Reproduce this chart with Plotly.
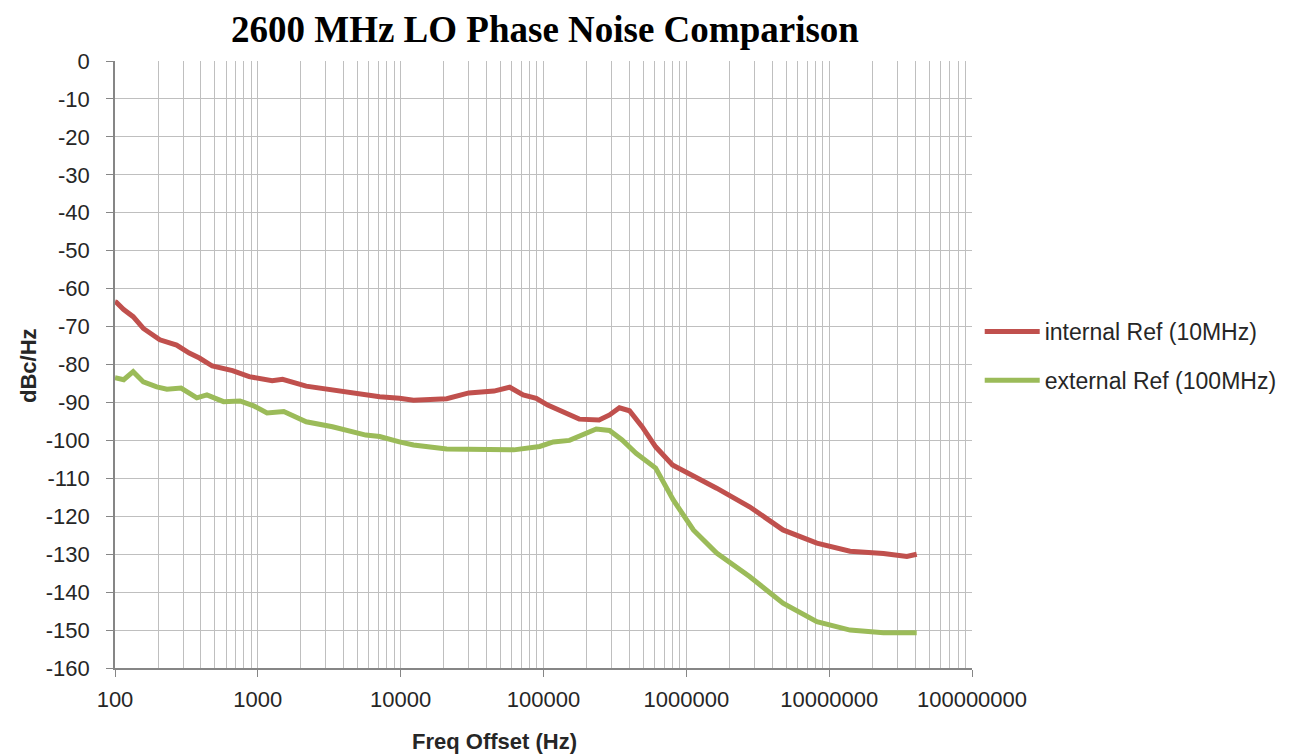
import plotly.graph_objects as go

# Data
freq_internal = [100, 102, 115, 134, 158, 206, 270, 331, 390, 480, 665, 870, 1260, 1490, 2180, 3330,
                 5700, 7130, 9800, 12300, 21000, 30000, 45000, 58000, 72000, 89000, 107000, 130000,
                 178000, 245000, 290000, 340000, 400000, 490000, 610000, 800000, 1170000, 1630000,
                 2770000, 4750000, 8200000, 14000000, 24000000, 35000000, 41000000]
pn_internal = [-63.5, -63.6, -65.5, -67.4, -70.5, -73.5, -74.9, -77.0, -78.3, -80.4, -81.6, -83.2, -84.3,
               -83.9, -85.7, -86.8, -88.0, -88.5, -88.9, -89.4, -89.0, -87.5, -87.0, -86.0, -88.0,
               -88.9, -90.7, -92.0, -94.4, -94.6, -93.3, -91.4, -92.2, -96.4, -101.7, -106.5, -109.6,
               -112.6, -117.5, -123.6, -127.1, -129.2, -129.8, -130.6, -130.0]

freq_external = [100, 102, 115, 134, 158, 196, 231, 290, 374, 440, 575, 750, 935, 1160, 1520, 2180, 3330,
                 5700, 7130, 9800, 12300, 21000, 36000, 62000, 94000, 117000, 152000, 199000, 234000,
                 290000, 355000, 445000, 610000, 810000, 1120000, 1630000, 2770000, 4750000, 8200000,
                 14000000, 24000000, 41000000]
pn_external = [-83.5, -83.6, -84.0, -81.9, -84.6, -85.9, -86.5, -86.2, -88.8, -88.0, -89.8, -89.6, -90.9,
               -92.8, -92.4, -95.1, -96.4, -98.6, -99.0, -100.4, -101.2, -102.3, -102.5, -102.5,
               -101.6, -100.4, -100.0, -98.1, -97.0, -97.4, -99.9, -103.4, -107.3, -115.7, -123.6,
               -129.7, -135.9, -142.9, -147.8, -150.0, -150.7, -150.7]

x_ticks = [100, 1000, 10000, 100000, 1000000, 10000000, 100000000]
x_tick_text = ["100", "1000", "10000", "100000", "1000000", "10000000", "100000000"]
y_ticks = list(range(-160, 1, 10))
y_tick_text = [str(v) for v in y_ticks]

minor_vals = [m * 10 ** e for e in range(2, 8) for m in range(2, 10)]

FONT = "Liberation Sans, Arial"
TXT = "#262626"

fig = go.Figure()
fig.add_trace(go.Scatter(x=freq_internal, y=pn_internal, mode="lines", name="internal Ref (10MHz)",
                         line=dict(color="#C0504D", width=5), legendgroup="a"))
fig.add_trace(go.Scatter(x=freq_external, y=pn_external, mode="lines", name="external Ref (100MHz)",
                         line=dict(color="#9BBB59", width=5), legendgroup="b"))

tick_font = dict(family=FONT, size=22, color=TXT)

fig.update_layout(
    width=1297, height=755,
    paper_bgcolor="white", plot_bgcolor="white",
    margin=dict(l=107, r=333, t=53, b=95, autoexpand=False),
    title=dict(text="<b>2600 MHz LO Phase Noise Comparison</b>", xref="container", x=0.414,
               xanchor="center", y=0.972, yanchor="middle",
               font=dict(family="Liberation Serif, Times New Roman", size=37, color="black")),
    showlegend=True,
    legend=dict(x=1.009, xanchor="left", y=0.514, yanchor="middle", tracegroupgap=16, itemwidth=55,
                font=dict(family=FONT, size=23, color=TXT), bgcolor="rgba(0,0,0,0)"),
    xaxis=dict(type="log", range=[2, 8], tickvals=x_ticks, ticktext=x_tick_text,
               showgrid=True, gridcolor="#BFBFBF", gridwidth=1.3,
               minor=dict(tickvals=minor_vals, showgrid=True, gridcolor="#BFBFBF", gridwidth=1.3,
                          ticks="", ticklen=0),
               ticks="outside", ticklen=7, tickcolor="#868686",
               showline=True, linecolor="#868686", linewidth=1.5,
               tickfont=tick_font, zeroline=False, ticklabelstandoff=4),
    yaxis=dict(range=[-160, 0], tickvals=y_ticks, ticktext=y_tick_text,
               showgrid=True, gridcolor="#BFBFBF", gridwidth=1.3,
               ticks="outside", ticklen=7, tickcolor="#868686",
               showline=True, linecolor="#868686", linewidth=1.5, zeroline=False,
               tickfont=tick_font, ticklabelstandoff=12),
    annotations=[
        dict(text="<b>Freq Offset (Hz)</b>", xref="paper", yref="paper", x=0.4434, y=-0.1219,
             xanchor="center", yanchor="middle", showarrow=False,
             font=dict(family=FONT, size=22, color=TXT)),
        dict(text="<b>dBc/Hz</b>", xref="paper", yref="paper", x=-0.1015, y=0.4975,
             xanchor="center", yanchor="middle", showarrow=False, textangle=-90,
             font=dict(family=FONT, size=22, color=TXT)),
    ],
)

fig.write_html("out.html")
